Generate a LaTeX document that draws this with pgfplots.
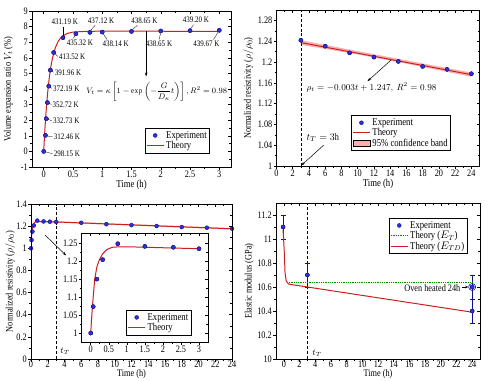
\documentclass[border=0pt]{standalone}
\usepackage{amsmath}
\usepackage{pgfplots}
\pgfplotsset{compat=1.18}
\usepackage{fontspec}
\setmainfont{Liberation Serif}[FakeStretch=0.83]
\newfontfamily\ylab{Liberation Serif}
\usetikzlibrary{arrows.meta}

\definecolor{ptblue}{RGB}{45,45,225}
\definecolor{ptedge}{RGB}{25,25,120}
\definecolor{thred}{RGB}{205,30,30}
\definecolor{bandpink}{RGB}{250,175,175}
\definecolor{thgreen}{RGB}{0,140,0}
\definecolor{errnavy}{RGB}{15,15,150}

\tikzset{
  ann/.style={font=\fontsize{8.5}{9}\selectfont, inner sep=0.5pt},
  lead/.style={line width=0.3pt},
}
\pgfplotsset{
  common/.style={
    scale only axis, anchor=south west,
    tick align=outside, tick pos=left,
    axis line style={line width=0.6pt},
    major tick length=3bp, minor tick length=1.8bp,
    every tick/.style={black, line width=0.5pt},
    ticklabel style={font=\fontsize{10}{10}\selectfont},
    xlabel style={font=\fontsize{10.5}{11}\selectfont, inner sep=1.5bp, yshift=0.5bp},
    ylabel style={font=\fontsize{11}{12}\ylab},
    xticklabel style={yshift=1bp, inner sep=1.5bp},
    yticklabel style={inner sep=1bp},
    /pgf/number format/assume math mode=true,
    legend style={font=\fontsize{10.5}{9}\selectfont, draw=black, line width=0.5pt,
      inner sep=1pt, row sep=-2.5pt, fill=white},
    legend cell align=left,
  },
  ylabx/.style={every axis y label/.style={at={(axis description cs:#1,0.5)}, rotate=90, anchor=center}},
  bottomx/.style={xlabel style={font=\fontsize{10}{10}\selectfont, inner sep=0pt, yshift=-1bp},
    xticklabel style={yshift=2bp}},
  mirror/.style={
    scale only axis, anchor=south west,
    tick align=inside, xtick pos=right, ytick pos=right,
    axis line style={line width=0.6pt},
    major tick length=3bp, minor tick length=1.8bp,
    every tick/.style={black, line width=0.5pt},
    xticklabels={}, yticklabels={},
  },
  pts/.style={only marks, mark=*, mark size=2bp,
    mark options={fill=ptblue, draw=ptedge, line width=0.4pt}},
  thy/.style={thred, line width=1pt, no markers},
}

\begin{document}
\begin{tikzpicture}
\useasboundingbox (0,0) rectangle (489bp,381bp);

% ================= Panel 1 =================
\begin{axis}[common, ylabx=-0.118, at={(32bp,214bp)}, width=199bp, height=156bp,
  xmin=-0.2, xmax=3.2, ymin=-1, ymax=9,
  xtick={0,0.5,1,1.5,2,2.5,3}, ytick={-1,0,1,2,3,4,5,6,7,8,9},
  minor x tick num=1, minor y tick num=1,
  xlabel={Time (h)}, ylabel={Volume expansion ratio $V_t$ (\%)},
  legend style={at={(axis cs:1.73,1.5)}, anchor=north west}]
\addplot[pts] coordinates {(0,0) (0.03,1.03) (0.045,2.1) (0.063,3.13) (0.086,4.18) (0.114,5.21) (0.17,6.34) (0.33,7.29) (0.55,7.54) (0.79,7.63) (1.0,7.65) (1.5,7.69) (2.0,7.72) (2.5,7.74) (3.0,7.76)};
\addlegendentry{Experiment}
\addplot[thy] coordinates {(0,0) (0.01,0.73) (0.02,1.40) (0.035,2.27) (0.05,3.03) (0.075,4.06) (0.1,4.87) (0.125,5.49) (0.15,5.98) (0.2,6.66) (0.25,7.07) (0.3,7.32) (0.4,7.56) (0.5,7.65) (0.7,7.69) (1.0,7.71) (2.05,7.71) (2.07,7.69) (3.0,7.69)};
\addlegendentry{Theory}
\addplot[pts, forget plot] coordinates {(0,0) (0.03,1.03) (0.045,2.1) (0.063,3.13) (0.086,4.18) (0.114,5.21) (0.17,6.34) (0.33,7.29) (0.55,7.54) (0.79,7.63) (1.0,7.65) (1.5,7.69) (2.0,7.72) (2.5,7.74) (3.0,7.76)};
% labels
\node[ann, anchor=west] at (axis cs:0.16,-0.15) {298.15 K};
\draw[lead] (axis cs:0.03,-0.03) -- (axis cs:0.15,-0.15);
\node[ann, anchor=west] at (axis cs:0.16,0.93) {312.46 K};
\draw[lead] (axis cs:0.05,1.0) -- (axis cs:0.15,0.93);
\node[ann, anchor=west] at (axis cs:0.15,1.95) {332.73 K};
\draw[lead] (axis cs:0.065,2.07) -- (axis cs:0.14,1.96);
\node[ann, anchor=west] at (axis cs:0.14,3.0) {352.72 K};
\draw[lead] (axis cs:0.085,3.1) -- (axis cs:0.13,3.01);
\node[ann, anchor=west] at (axis cs:0.15,4.03) {372.19 K};
\draw[lead] (axis cs:0.105,4.13) -- (axis cs:0.14,4.04);
\node[ann, anchor=west] at (axis cs:0.18,5.06) {391.96 K};
\draw[lead] (axis cs:0.135,5.17) -- (axis cs:0.17,5.07);
\node[ann, anchor=west] at (axis cs:0.25,6.07) {413.52 K};
\draw[lead] (axis cs:0.19,6.28) -- (axis cs:0.24,6.09);
\node[ann] at (axis cs:0.36,8.3) {431.19 K};
\draw[lead] (axis cs:0.33,7.42) -- (axis cs:0.33,8.0);
\node[ann] at (axis cs:0.98,8.36) {437.12 K};
\draw[lead] (axis cs:0.8,7.76) -- (axis cs:0.88,8.08);
\node[ann] at (axis cs:1.72,8.36) {438.65 K};
\draw[lead] (axis cs:1.52,7.82) -- (axis cs:1.6,8.08);
\node[ann] at (axis cs:2.6,8.42) {439.20 K};
\draw[lead] (axis cs:2.51,7.87) -- (axis cs:2.56,8.12);
\node[ann] at (axis cs:0.62,6.99) {435.32 K};
\draw[lead] (axis cs:0.54,7.42) -- (axis cs:0.5,7.24);
\node[ann] at (axis cs:1.23,6.92) {438.14 K};
\draw[lead] (axis cs:1.02,7.53) -- (axis cs:1.08,7.17);
\node[ann] at (axis cs:1.97,6.92) {438.65 K};
\draw[lead] (axis cs:2.0,7.6) -- (axis cs:1.97,7.17);
\node[ann] at (axis cs:2.78,6.92) {439.67 K};
\draw[lead] (axis cs:2.98,7.64) -- (axis cs:2.9,7.17);
\draw[line width=0.5pt, -{Stealth[length=4bp,width=2.5bp]}] (axis cs:1.75,7.7) -- (axis cs:1.75,4.8);
\node[font=\fontsize{8}{8}\selectfont] at (axis cs:1.93,3.83) {$V_t=\kappa\left[1-\exp\left(-\dfrac{G}{D_\kappa}t\right)\right], R^2=0.98$};
\end{axis}
\begin{axis}[mirror, at={(32bp,214bp)}, width=199bp, height=156bp,
  xmin=-0.2, xmax=3.2, ymin=-1, ymax=9,
  xtick={0,0.5,1,1.5,2,2.5,3}, ytick={-1,0,1,2,3,4,5,6,7,8,9},
  minor x tick num=1, minor y tick num=1]
\end{axis}

% ================= Panel 2 =================
\begin{axis}[common, ylabx=-0.138, at={(276.5bp,215bp)}, width=203bp, height=156bp,
  xmin=0, xmax=25, ymin=1, ymax=1.3,
  xtick={0,2,4,6,8,10,12,14,16,18,20,22,24},
  ytick={1,1.04,1.08,1.12,1.16,1.2,1.24,1.28},
  minor x tick num=1, minor y tick num=1,
  xlabel={Time (h)}, ylabel={Normalized resistivity ($\rho/\rho_0$)},
  legend style={at={(axis cs:9.2,1.0975)}, anchor=north west}]
\addplot[fill=bandpink, draw=none, forget plot] coordinates {(3,1.2418) (10,1.2210) (17,1.2002) (24,1.1797) (24,1.1715) (17,1.1938) (10,1.2146) (3,1.2330)} -- cycle;
\addplot[black, densely dashed, line width=0.6pt, forget plot] coordinates {(3,1) (3,1.3)};
\addplot[pts] coordinates {(3,1.2418) (6,1.2304) (9,1.2176) (12,1.2094) (15,1.2011) (18,1.1915) (21,1.1858) (24,1.1775)};
\addlegendentry{Experiment}
\addplot[thy] coordinates {(3,1.2374) (24,1.1756)};
\addlegendentry{Theory}
\addlegendimage{area legend, fill=bandpink, draw=none}
\addlegendentry{95\% confidence band}
\addplot[pts, forget plot] coordinates {(3,1.2418) (6,1.2304) (9,1.2176) (12,1.2094) (15,1.2011) (18,1.1915) (21,1.1858) (24,1.1775)};
\draw[line width=0.5pt, -{Stealth[length=4bp,width=2.5bp]}] (axis cs:14.1,1.2036) -- (axis cs:11.2,1.163);
\node[font=\fontsize{9}{10}\selectfont] at (axis cs:11.7,1.151) {$\rho_t=-0.003t+1.247,\ R^2=0.98$};
\node[font=\fontsize{10}{10}\selectfont] at (axis cs:5.7,1.055) {$t_T=3$h};
\draw[line width=0.5pt, -{Stealth[length=4bp,width=2.5bp]}] (axis cs:5.8,1.04) -- (axis cs:3.05,1.001);
\end{axis}
\begin{axis}[mirror, at={(276.5bp,215bp)}, width=203bp, height=156bp,
  xmin=0, xmax=25, ymin=1, ymax=1.3,
  xtick={0,2,4,6,8,10,12,14,16,18,20,22,24},
  ytick={1,1.04,1.08,1.12,1.16,1.2,1.24,1.28},
  minor x tick num=1, minor y tick num=1]
\end{axis}

% ================= Panel 3 =================
\begin{axis}[common, bottomx, ylabx=-0.104, at={(31bp,22bp)}, width=201bp, height=155bp,
  xmin=0, xmax=24, ymin=0, ymax=1.4,
  xtick={0,2,4,6,8,10,12,14,16,18,20,22,24},
  ytick={0,0.2,0.4,0.6,0.8,1,1.2,1.4},
  minor x tick num=1, minor y tick num=1,
  xlabel={Time (h)}, ylabel={Normalized resistivity ($\rho/\rho_0$)}]
\addplot[fill=bandpink, draw=none, forget plot] coordinates {(1,1.247) (3,1.244) (24,1.183) (24,1.169) (3,1.232) (1,1.236)} -- cycle;
\addplot[black, densely dashed, line width=0.6pt, forget plot] coordinates {(3,0) (3,1.4)};
\addplot[thy, forget plot] coordinates {(0,1.0) (0.03,1.05) (0.06,1.09) (0.11,1.15) (0.17,1.185) (0.24,1.205) (0.33,1.222) (0.45,1.234) (0.6,1.240) (0.8,1.2415) (1.0,1.2415) (3,1.238) (24,1.176)};
\addplot[pts, forget plot] coordinates {(0,1.0) (0.07,1.074) (0.17,1.151) (0.33,1.2055) (0.75,1.25) (1.5,1.2425) (2.25,1.24) (3,1.238) (6,1.2304) (9,1.2176) (12,1.2094) (15,1.2011) (18,1.1915) (21,1.1858) (24,1.1775)};
\draw[line width=0.5pt, -{Stealth[length=4bp,width=2.5bp]}] (axis cs:1.67,1.12) -- (axis cs:4.2,0.935);
\node[font=\fontsize{9}{9}\selectfont, anchor=west] at (axis cs:3.1,0.07) {$t_T$};
\end{axis}
\begin{axis}[mirror, at={(31bp,22bp)}, width=201bp, height=155bp,
  xmin=0, xmax=24, ymin=0, ymax=1.4,
  xtick={0,2,4,6,8,10,12,14,16,18,20,22,24},
  ytick={0,0.2,0.4,0.6,0.8,1,1.2,1.4},
  minor x tick num=1, minor y tick num=1]
\end{axis}

% ---- inset ----
\begin{axis}[common, at={(81.7bp,39bp)}, width=126.3bp, height=109bp,
  axis background/.style={fill=white},
  xmin=-0.25, xmax=3.25, ymin=0.975, ymax=1.28,
  xtick={0,0.5,1,1.5,2,2.5,3}, ytick={1,1.05,1.1,1.15,1.2,1.25},
  minor x tick num=1, minor y tick num=1,
  legend style={at={(axis cs:0.99,1.0647)}, anchor=north west}]
\addplot[pts] coordinates {(0,1.0) (0.07,1.074) (0.17,1.151) (0.33,1.2055) (0.75,1.25) (1.5,1.2425) (2.29,1.24) (3,1.236)};
\addlegendentry{Experiment}
\addplot[thy] coordinates {(0,1.0) (0.03,1.05) (0.06,1.09) (0.11,1.15) (0.17,1.185) (0.24,1.205) (0.33,1.222) (0.45,1.234) (0.6,1.240) (0.8,1.2415) (1.0,1.2415) (3,1.236)};
\addlegendentry{Theory}
\addplot[pts, forget plot] coordinates {(0,1.0) (0.07,1.074) (0.17,1.151) (0.33,1.2055) (0.75,1.25) (1.5,1.2425) (2.29,1.24) (3,1.236)};
\end{axis}
\begin{axis}[mirror, at={(81.7bp,39bp)}, width=126.3bp, height=109bp,
  xmin=-0.25, xmax=3.25, ymin=0.975, ymax=1.28,
  xtick={0,0.5,1,1.5,2,2.5,3}, ytick={1,1.05,1.1,1.15,1.2,1.25},
  minor x tick num=1, minor y tick num=1]
\end{axis}

% ================= Panel 4 =================
\begin{axis}[common, bottomx, ylabx=-0.131, at={(276bp,22bp)}, width=204bp, height=156bp,
  xmin=-1, xmax=25, ymin=10, ymax=11.3,
  xtick={0,2,4,6,8,10,12,14,16,18,20,22,24},
  ytick={10,10.2,10.4,10.6,10.8,11,11.2},
  minor x tick num=1, minor y tick num=1,
  xlabel={Time (h)}, ylabel={Elastic modulus (GPa)},
  legend style={at={(axis cs:13.4,11.175)}, anchor=north west}]
\addplot[black, densely dashed, line width=0.6pt, forget plot] coordinates {(3,10) (3,11.3)};
\addplot[pts, error bars/.cd, y dir=both, y explicit,
  error bar style={errnavy, line width=0.7pt},
  error mark options={rotate=90, mark size=2.5bp, errnavy, line width=0.7pt}]
  coordinates {(-0.1,11.1) +- (0,0.1) (3,10.7) +- (0,0.1) (24,10.4) +- (0,0.1) (24,10.6) +- (0,0.1)};
\addlegendentry{Experiment}
\addplot[thgreen, densely dotted, line width=0.8pt] coordinates {(0.4,10.635) (24,10.635)};
\addlegendentry{Theory ($E_T$)}
\addplot[thy] coordinates {(-0.1,11.08) (0.05,10.9) (0.15,10.72) (0.3,10.65) (0.6,10.625) (1,10.62) (3,10.6) (24,10.39)};
\addlegendentry{Theory ($E_{TD}$)}
\addplot[pts, forget plot] coordinates {(-0.1,11.1) (3,10.7) (24,10.4) (24,10.6)};
\addplot[only marks, mark=o, mark size=3.5bp, errnavy, line width=0.6pt, forget plot] coordinates {(24,10.6)};
\node[font=\fontsize{10}{10}\selectfont, anchor=east, inner sep=1pt] at (axis cs:22.65,10.595) {Oven heated 24h};
\draw[line width=0.5pt, -{Stealth[length=3bp,width=2.5bp]}] (axis cs:22.7,10.6) -- (axis cs:23.5,10.6);
\node[font=\fontsize{9}{9}\selectfont, anchor=west] at (axis cs:3.2,10.05) {$t_T$};
\end{axis}
\begin{axis}[mirror, at={(276bp,22bp)}, width=204bp, height=156bp,
  xmin=-1, xmax=25, ymin=10, ymax=11.3,
  xtick={0,2,4,6,8,10,12,14,16,18,20,22,24},
  ytick={10,10.2,10.4,10.6,10.8,11,11.2},
  minor x tick num=1, minor y tick num=1]
\end{axis}
\end{tikzpicture}
\end{document}
